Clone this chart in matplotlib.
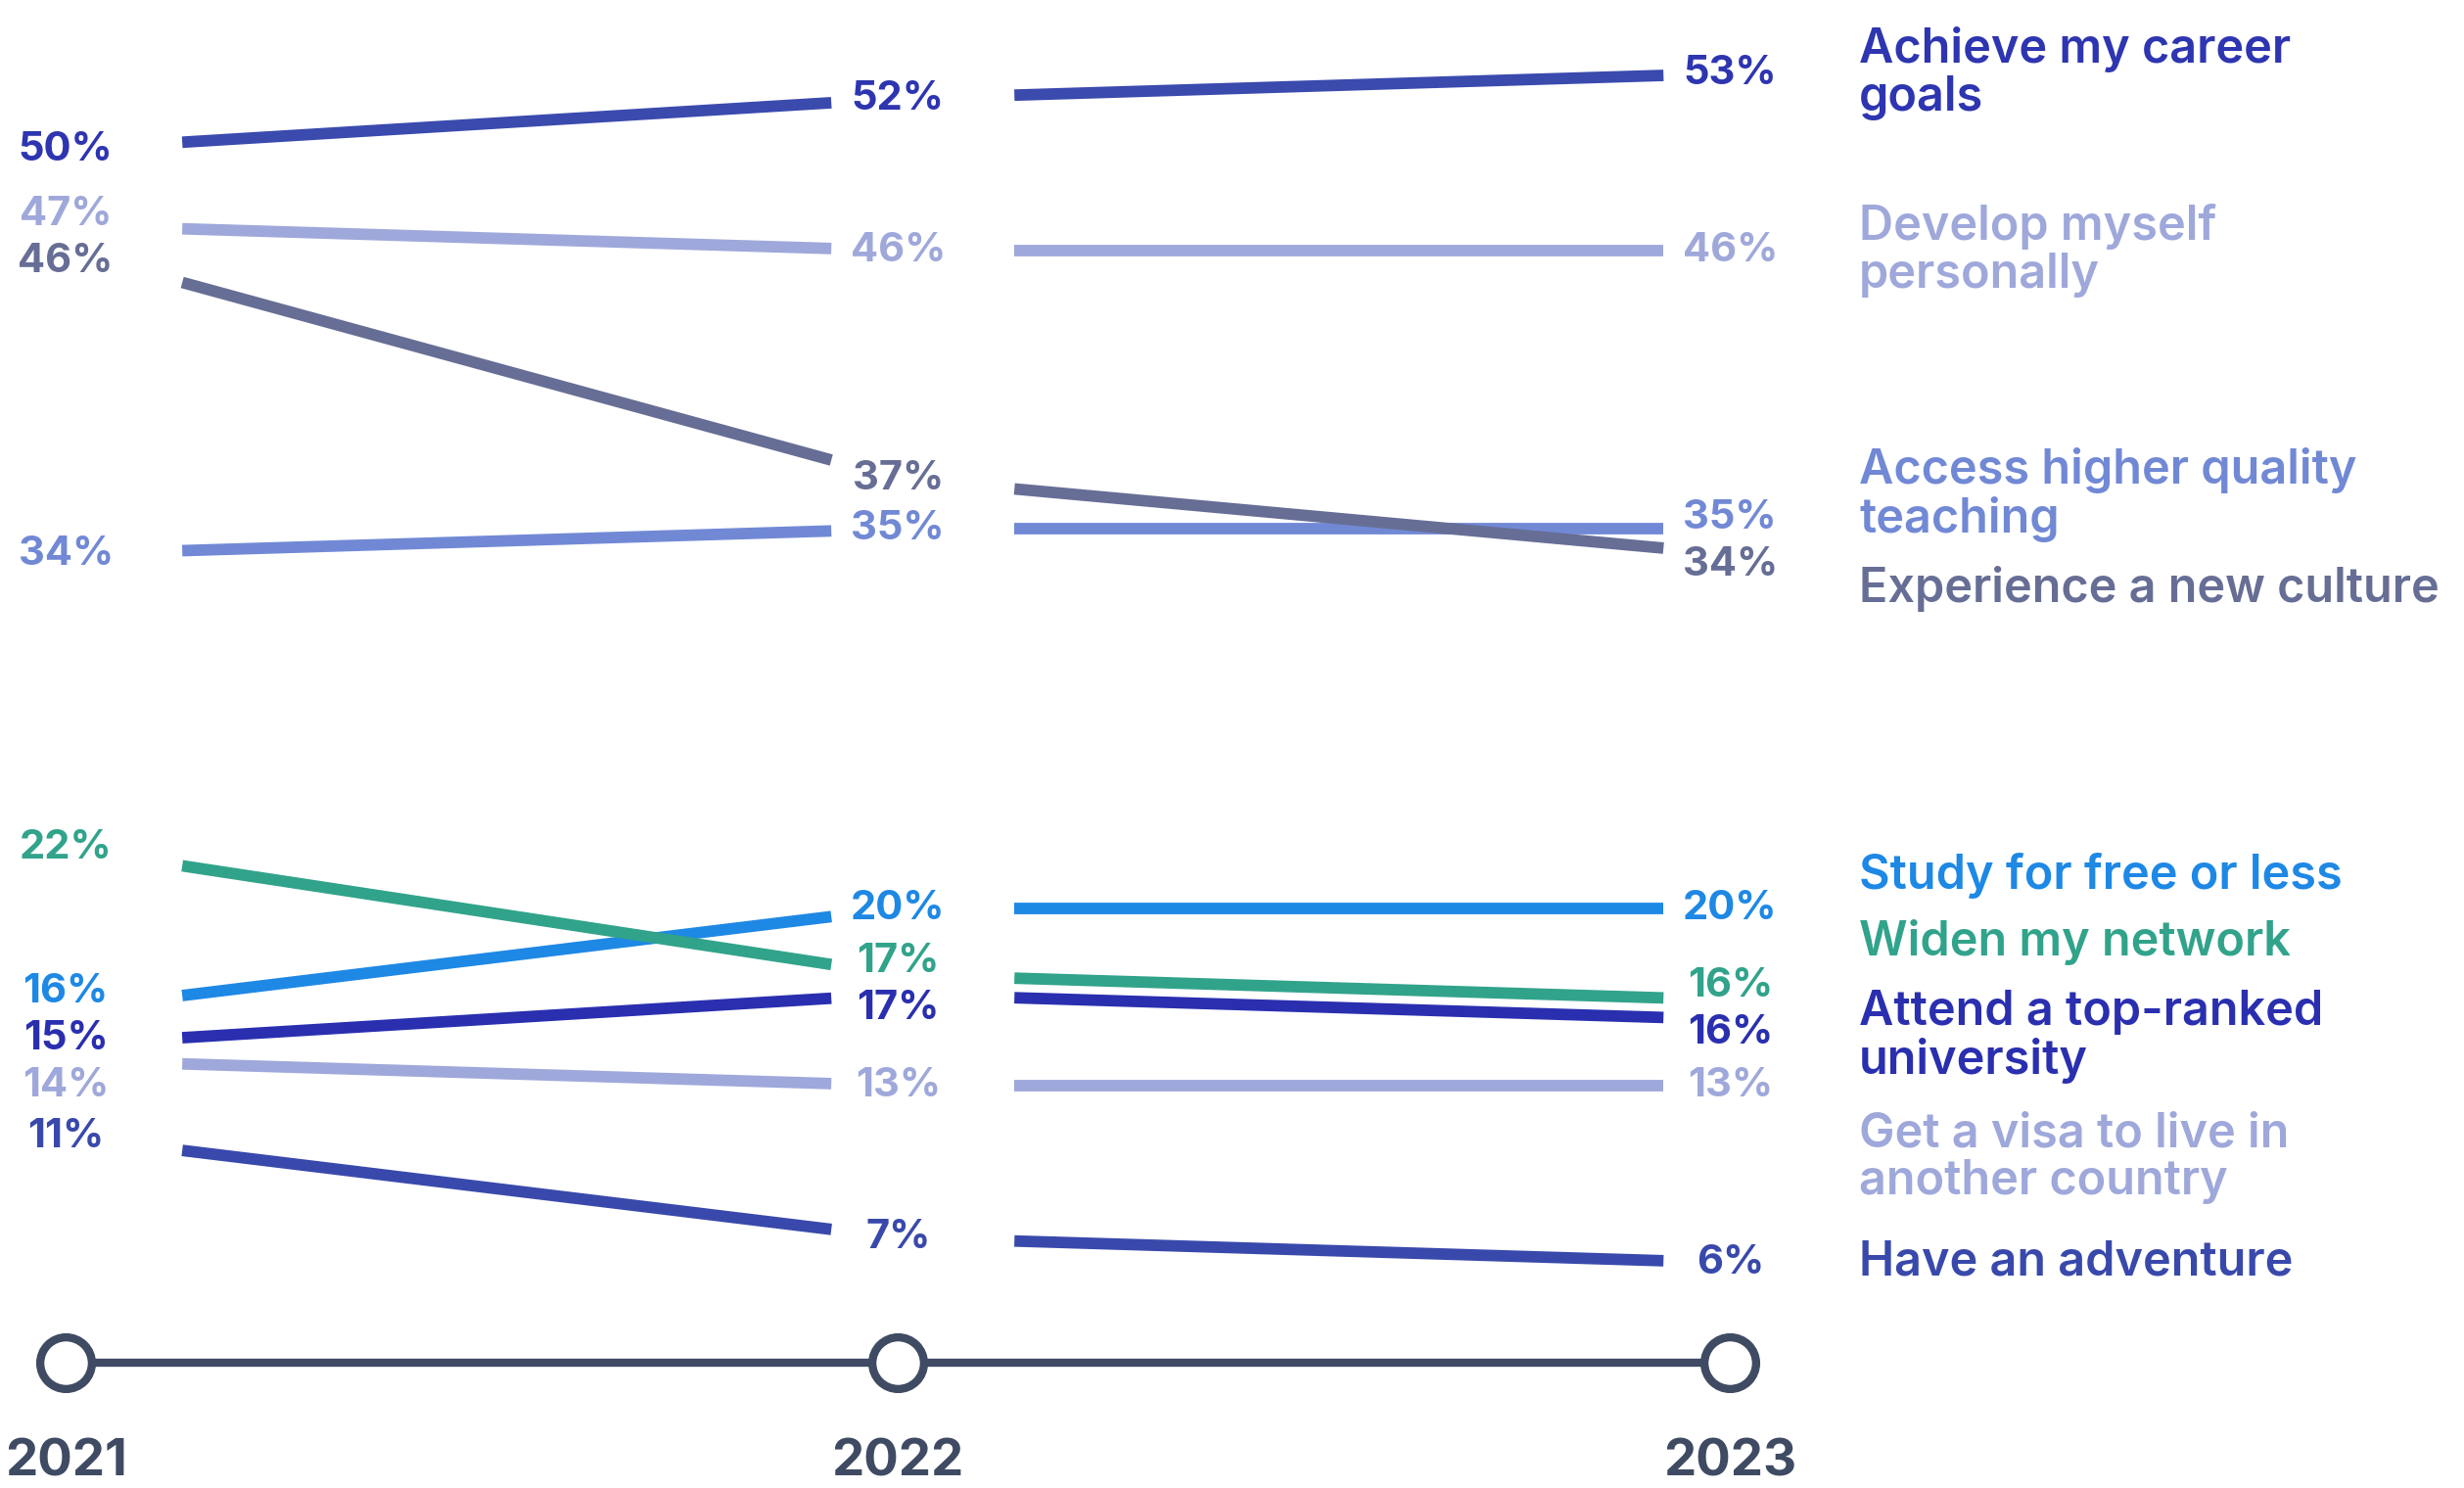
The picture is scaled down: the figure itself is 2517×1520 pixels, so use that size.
import matplotlib
matplotlib.use("Agg")
import matplotlib.pyplot as plt
import matplotlib.transforms as mtransforms
import numpy as np

# ---------------- data ----------------
years = ["2021", "2022", "2023"]
categories = [
    "Achieve my career\ngoals",
    "Develop myself\npersonally",
    "Access higher quality\nteaching",
    "Experience a new culture",
    "Study for free or less",
    "Widen my network",
    "Attend a top-ranked\nuniversity",
    "Get a visa to live in\nanother country",
    "Have an adventure",
]
v2021 = [50, 47, 34, 46, 16, 22, 15, 14, 11]
v2022 = [52, 46, 35, 37, 20, 17, 17, 13, 7]
v2023 = [53, 46, 35, 34, 20, 16, 16, 13, 6]

line_colors = ["#3A4AAD", "#9FA8DA", "#7189D5", "#676E95", "#1E88E5",
               "#31A38B", "#2A2FAF", "#9FA8DA", "#3949AB"]
text_colors = ["#2E35B0", "#9FA8DA", "#7189D5", "#676E95", "#1E88E5",
               "#31A38B", "#2A2FAF", "#9FA8DA", "#3949AB"]
axis_color = "#3F4A63"

# ---------------- style ----------------
plt.rcParams['font.family'] = ['Inter', 'DejaVu Sans']
DPI = 100
fig = plt.figure(figsize=(25.17, 15.2), dpi=DPI)
ax = fig.add_axes([0, 0, 1, 1])
ax.set_axis_off()
ax.set_xlim(-0.079, 2.882)
ax.set_ylim(-2.9, 55.9)

xpos = np.arange(len(years), dtype=float)
vals = np.array([v2021, v2022, v2023], dtype=float).T

GAP_AFTER = 0.14
GAP_BEFORE = 0.08
LW = 8.5
NUM_FS = 30
CAT_FS = 35
shift_px = {5: 10, 6: -10}   # separate tied series visually


def shifted(i):
    s = shift_px.get(i, 0)
    return ax.transData + mtransforms.ScaledTranslation(0, s / DPI, fig.dpi_scale_trans)


# lines with gaps around labels
for i, row in enumerate(vals):
    tr = shifted(i)
    for j in range(len(years) - 1):
        xa, xb = xpos[j] + GAP_AFTER, xpos[j + 1] - GAP_BEFORE
        xs = np.array([xa, xb])
        ys = np.interp(xs, xpos[j:j + 2], row[j:j + 2])
        ax.plot(xs, ys, color=line_colors[i], lw=LW, solid_capstyle='butt',
                transform=tr, zorder=3)


def spread(targets, heights, pad, iters=3000):
    y = np.array(targets, float)
    h = np.array(heights, float)
    order = sorted(range(len(y)), key=lambda k: (-y[k], k))
    for _ in range(iters):
        moved = False
        for a, b in zip(order[:-1], order[1:]):
            need = (h[a] + h[b]) / 2 + pad
            gap = y[a] - y[b]
            if gap < need - 1e-6:
                d = (need - gap) / 2
                y[a] += d
                y[b] -= d
                moved = True
        if not moved:
            break
    return y


# value labels
for j in range(len(years)):
    disp = [shifted(i).transform((xpos[j], vals[i, j]))[1] for i in range(len(vals))]
    new = spread(disp, [40] * len(disp), 8)
    for i in range(len(vals)):
        dy = (new[i] - disp[i]) * 72 / DPI
        ax.annotate(f"{int(vals[i, j])}%", xy=(xpos[j], vals[i, j]), xycoords=shifted(i),
                    xytext=(0, dy), textcoords='offset points', ha='center', va='center',
                    fontsize=NUM_FS, fontweight='bold', color=text_colors[i], zorder=4)

# category labels at the right
CAT_X = 2.155
line_h = 56
disp = [shifted(i).transform((xpos[-1], vals[i, -1]))[1] for i in range(len(vals))]
heights = [line_h * (c.count("\n") + 1) for c in categories]
new = spread(disp, heights, 12)
for i, c in enumerate(categories):
    dy = (new[i] - disp[i]) * 72 / DPI
    ax.annotate(c, xy=(CAT_X, vals[i, -1]), xycoords=shifted(i),
                xytext=(0, dy), textcoords='offset points', ha='left', va='center',
                fontsize=CAT_FS, fontweight='semibold', color=text_colors[i],
                linespacing=1.08, zorder=4)

# timeline
blend = mtransforms.blended_transform_factory(ax.transData, ax.transAxes)
TL_Y = 1 - 1392 / 1520
ax.plot([xpos[0], xpos[-1]], [TL_Y, TL_Y], color=axis_color, lw=6,
        transform=blend, zorder=2, solid_capstyle='butt')
ax.plot(xpos, [TL_Y] * len(xpos), 'o', ms=38, mfc='white', mec=axis_color, mew=6,
        transform=blend, zorder=3, linestyle='none')
for j, yr in enumerate(years):
    ax.text(xpos[j], 0.001, yr, transform=blend, ha='center', va='bottom',
            fontsize=38, fontweight='bold', color=axis_color)

fig.savefig("out.png", dpi=DPI, facecolor='white')
